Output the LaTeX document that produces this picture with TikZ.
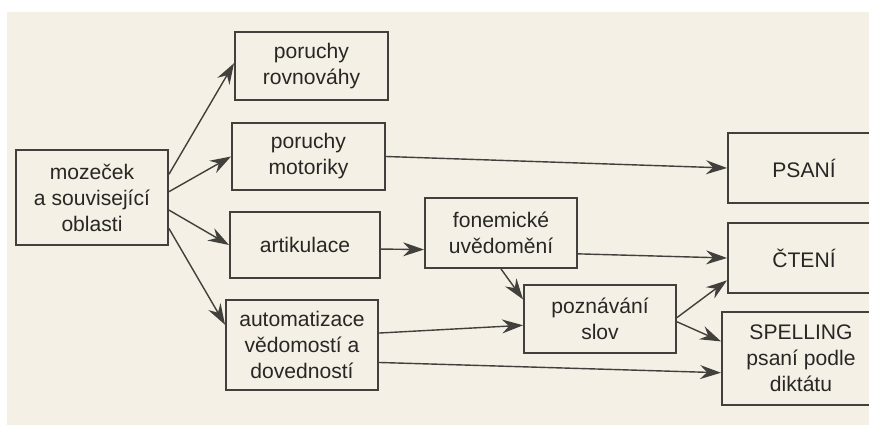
\documentclass[tikz,border=0pt]{standalone}
\usepackage{fontspec}
\setmainfont{Liberation Sans}
\usetikzlibrary{arrows.meta,calc}

\begin{document}
\begin{tikzpicture}[x=0.2mm, y=0.2mm,
    box/.style={draw=lineink, line width=1.1pt, align=center, text=textink,
        font=\fontsize{12}{14.8}\selectfont, inner sep=2pt,
        minimum width=30.4mm, minimum height=14mm},
    arr/.style={draw=lineink, line width=0.8pt,
        -{Stealth[length=4.2mm, width=2.8mm, inset=1.4mm]}}]
    % Define colors
    \definecolor{paper}{RGB}{245,240,229}
    \definecolor{lineink}{RGB}{66,64,60}
    \definecolor{textink}{RGB}{40,39,37}

    % Page
    \useasboundingbox (0,0) rectangle (869,425);
    \clip (0,0) rectangle (869,425);
    \fill[white] (0,0) rectangle (869,425);
    \fill[paper] (7,0) rectangle (869,413);

    % Left column
    \node[box, minimum height=19mm] (mozecek) at (92,227.5) {mozeček\\a související\\oblasti};

    % Middle column
    \node[box, minimum width=30.6mm, minimum height=13.6mm] (rovnovaha) at (311.5,359) {poruchy\\rovnováhy};
    \node[box, minimum width=30.6mm, minimum height=13.4mm] (motorika) at (308.5,268.5) {poruchy\\motoriky};
    \node[box, minimum width=30mm, minimum height=13.2mm] (artikulace) at (305,180) {artikulace};
    \node[box, minimum height=18mm] (automatizace) at (302,80) {automatizace\\vědomostí a\\dovedností};

    % Inner column
    \node[box] (fonemicke) at (501,192) {fonemické\\uvědomění};
    \node[box, minimum height=13.6mm] (poznavani) at (600,106) {poznávání\\slov};

    % Right column (runs off the page)
    \node[box] (psani) at (804,257) {PSANÍ};
    \node[box] (cteni) at (804,167) {ČTENÍ};
    \node[box, minimum width=31.6mm, minimum height=18.6mm] (spelling) at (801,66.5) {SPELLING\\psaní podle\\diktátu};

    % From the cerebellum
    \draw[arr] ($(mozecek.north east)!0.26!(mozecek.south east)$) -- ($(rovnovaha.north west)!0.46!(rovnovaha.south west)$);
    \draw[arr] ($(mozecek.north east)!0.44!(mozecek.south east)$) -- (motorika.west);
    \draw[arr] ($(mozecek.north east)!0.63!(mozecek.south east)$) -- (artikulace.west);
    \draw[arr] ($(mozecek.north east)!0.82!(mozecek.south east)$) -- ($(automatizace.north west)!0.28!(automatizace.south west)$);

    % Towards the skills
    \draw[arr] (motorika.east) -- (psani.west);
    \draw[arr] ($(artikulace.north east)!0.56!(artikulace.south east)$) -- ($(fonemicke.north west)!0.73!(fonemicke.south west)$);
    \draw[arr] ($(fonemicke.north east)!0.79!(fonemicke.south east)$) -- (cteni.west);
    \draw[arr] (fonemicke.south) -- ($(poznavani.north west)!0.22!(poznavani.south west)$);
    \draw[arr] ($(automatizace.north east)!0.37!(automatizace.south east)$) -- ($(poznavani.north west)!0.59!(poznavani.south west)$);
    \draw[arr] ($(automatizace.north east)!0.69!(automatizace.south east)$) -- ($(spelling.north west)!0.65!(spelling.south west)$);
    \draw[arr] ($(poznavani.north east)!0.48!(poznavani.south east)$) -- ($(cteni.north west)!0.81!(cteni.south west)$);
    \draw[arr] ($(poznavani.north east)!0.54!(poznavani.south east)$) -- ($(spelling.north west)!0.32!(spelling.south west)$);
\end{tikzpicture}
\end{document}
